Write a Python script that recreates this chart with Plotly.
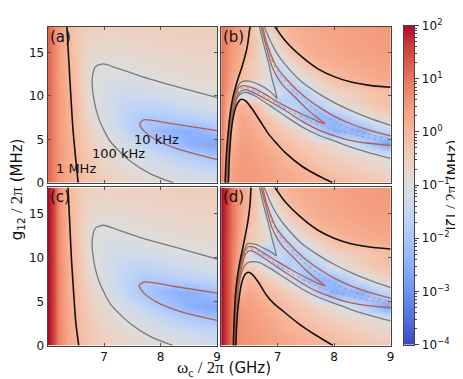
import math
import plotly.graph_objects as go

# ---------------- grids (log10 |zeta|/2pi in MHz) ----------------
x_ac = [6.0, 6.1, 6.2, 6.35, 6.5, 6.75, 7.0, 7.25, 7.5, 7.75, 8.0, 8.25, 8.5, 8.75, 9.0]
x_bd = [6.0, 6.1, 6.2, 6.35, 6.5, 6.65, 6.8, 7.0, 7.25, 7.5, 7.75, 8.0, 8.25, 8.5, 8.75, 9.0]
y_grid = [0, 1.5, 3, 4.5, 6, 7.5, 9, 10.5, 12, 13.5, 15, 16.5, 18]

log_zeta_a = [
    [1.2, 0.85, 0.52, 0.25, 0.05, -0.3, -0.5, -0.62, -0.72, -0.82, -0.92, -1.02, -1.1, -1.18, -1.25],
    [1.2, 0.85, 0.52, 0.24, 0.03, -0.35, -0.6, -0.78, -0.92, -1.04, -1.15, -1.25, -1.35, -1.45, -1.52],
    [1.2, 0.85, 0.5, 0.22, 0.0, -0.42, -0.72, -0.92, -1.07, -1.25, -1.45, -1.65, -1.82, -1.97, -2.1],
    [1.2, 0.85, 0.5, 0.2, -0.02, -0.5, -0.85, -1.1, -1.35, -1.65, -1.92, -2.2, -2.45, -2.62, -2.72],
    [1.2, 0.85, 0.48, 0.18, -0.05, -0.6, -1.0, -1.35, -1.72, -2.05, -2.3, -2.45, -2.5, -2.35, -2.05],
    [1.2, 0.84, 0.47, 0.16, -0.08, -0.75, -1.12, -1.45, -1.75, -1.95, -1.92, -1.82, -1.72, -1.62, -1.52],
    [1.2, 0.84, 0.46, 0.14, -0.12, -0.9, -1.2, -1.42, -1.55, -1.58, -1.5, -1.4, -1.3, -1.2, -1.08],
    [1.2, 0.83, 0.45, 0.12, -0.15, -0.92, -1.15, -1.27, -1.3, -1.25, -1.15, -1.08, -1.03, -0.97, -0.92],
    [1.2, 0.83, 0.44, 0.1, -0.2, -0.95, -1.08, -1.12, -1.08, -1.01, -0.95, -0.9, -0.86, -0.83, -0.8],
    [1.2, 0.82, 0.43, 0.07, -0.25, -0.9, -1.02, -0.98, -0.92, -0.87, -0.82, -0.78, -0.75, -0.72, -0.7],
    [1.2, 0.82, 0.42, 0.04, -0.28, -0.75, -0.85, -0.82, -0.78, -0.74, -0.7, -0.67, -0.64, -0.62, -0.6],
    [1.2, 0.81, 0.41, 0.02, -0.3, -0.62, -0.7, -0.68, -0.65, -0.62, -0.6, -0.57, -0.55, -0.53, -0.52],
    [1.2, 0.8, 0.4, 0.0, -0.3, -0.52, -0.58, -0.57, -0.55, -0.53, -0.51, -0.49, -0.47, -0.46, -0.45],
]

log_zeta_c = [
    [2.0, 1.55, 0.8, 0.28, 0.06, -0.3, -0.5, -0.62, -0.72, -0.82, -0.92, -1.02, -1.1, -1.18, -1.25],
    [2.0, 1.55, 0.8, 0.27, 0.04, -0.35, -0.6, -0.78, -0.92, -1.04, -1.15, -1.25, -1.35, -1.45, -1.52],
    [2.0, 1.55, 0.78, 0.25, 0.01, -0.42, -0.72, -0.92, -1.07, -1.25, -1.45, -1.65, -1.82, -1.97, -2.1],
    [2.0, 1.55, 0.78, 0.23, -0.01, -0.5, -0.85, -1.1, -1.35, -1.65, -1.92, -2.2, -2.45, -2.62, -2.72],
    [2.0, 1.55, 0.76, 0.21, -0.04, -0.6, -1.0, -1.35, -1.72, -2.05, -2.3, -2.45, -2.5, -2.35, -2.05],
    [2.0, 1.55, 0.75, 0.19, -0.07, -0.75, -1.12, -1.45, -1.75, -1.95, -1.92, -1.82, -1.72, -1.62, -1.52],
    [2.0, 1.55, 0.74, 0.17, -0.1, -0.9, -1.2, -1.42, -1.55, -1.58, -1.5, -1.4, -1.3, -1.2, -1.08],
    [2.0, 1.55, 0.73, 0.15, -0.13, -0.92, -1.15, -1.27, -1.3, -1.25, -1.15, -1.08, -1.03, -0.97, -0.92],
    [2.0, 1.55, 0.72, 0.13, -0.18, -0.95, -1.08, -1.12, -1.08, -1.01, -0.95, -0.9, -0.86, -0.83, -0.8],
    [2.0, 1.55, 0.71, 0.1, -0.23, -0.9, -1.02, -0.98, -0.92, -0.87, -0.82, -0.78, -0.75, -0.72, -0.7],
    [2.0, 1.55, 0.7, 0.07, -0.26, -0.75, -0.85, -0.82, -0.78, -0.74, -0.7, -0.67, -0.64, -0.62, -0.6],
    [2.0, 1.55, 0.69, 0.05, -0.28, -0.62, -0.7, -0.68, -0.65, -0.62, -0.6, -0.57, -0.55, -0.53, -0.52],
    [2.0, 1.55, 0.68, 0.03, -0.28, -0.52, -0.58, -0.57, -0.55, -0.53, -0.51, -0.49, -0.47, -0.46, -0.45],
]

log_zeta_b = [
    [1.0, -0.3, 0.42, 0.5, 0.5, 0.45, 0.4, 0.33, 0.25, 0.15, 0.07, -0.02, -0.12, -0.22, -0.32, -0.42],
    [1.0, -0.2, 0.4, 0.5, 0.48, 0.43, 0.36, 0.25, 0.14, 0.02, -0.12, -0.25, -0.38, -0.5, -0.62, -0.72],
    [1.0, -0.1, 0.3, 0.48, 0.45, 0.38, 0.28, 0.14, -0.02, -0.2, -0.38, -0.52, -0.65, -0.78, -0.9, -1.05],
    [1.0, 0.05, 0.1, 0.42, 0.38, 0.28, 0.14, -0.02, -0.22, -0.42, -0.65, -0.88, -1.2, -1.6, -2.3, -2.9],
    [1.0, 0.1, -0.1, 0.35, 0.28, 0.15, -0.02, -0.25, -0.55, -0.92, -1.95, -2.5, -2.4, -2.6, -1.8, -1.5],
    [1.0, 0.15, -0.2, 0.3, 0.18, 0.0, -0.2, -0.6, -1.3, -2.2, -2.4, -2.3, -1.75, -1.15, -0.85, -0.6],
    [1.0, 0.25, -0.1, 0.1, -0.02, -0.3, -0.9, -2.0, -1.6, -2.0, -1.7, -1.05, -0.75, -0.5, -0.3, -0.15],
    [1.0, 0.5, 0.15, -1.6, -1.8, -1.7, -1.2, -1.1, -2.0, -1.6, -0.92, -0.7, -0.5, -0.35, -0.2, -0.08],
    [1.0, 0.6, 0.3, -0.1, -0.4, -0.6, -0.85, -1.85, -1.4, -0.85, -0.5, -0.15, 0.05, 0.15, 0.22, 0.28],
    [1.0, 0.65, 0.4, 0.05, -0.35, -0.6, -0.9, -1.5, -0.8, -0.3, 0.05, 0.15, 0.22, 0.28, 0.33, 0.37],
    [1.0, 0.7, 0.45, 0.2, -0.1, -0.5, -1.5, -0.95, -0.2, 0.1, 0.2, 0.27, 0.33, 0.38, 0.42, 0.45],
    [1.0, 0.72, 0.5, 0.25, -0.05, -0.5, -1.4, -0.5, 0.05, 0.18, 0.26, 0.32, 0.38, 0.42, 0.46, 0.49],
    [1.0, 0.75, 0.55, 0.3, 0.02, -0.85, -0.5, 0.0, 0.15, 0.24, 0.3, 0.36, 0.41, 0.45, 0.48, 0.51],
]

log_zeta_d = [
    [2.0, 1.5, 0.9, 0.6, 0.55, 0.48, 0.42, 0.33, 0.25, 0.15, 0.07, -0.02, -0.12, -0.22, -0.32, -0.42],
    [2.0, 1.5, 0.9, 0.58, 0.53, 0.45, 0.38, 0.25, 0.14, 0.02, -0.12, -0.25, -0.38, -0.5, -0.62, -0.72],
    [2.0, 1.5, 0.9, 0.55, 0.5, 0.4, 0.3, 0.16, -0.02, -0.2, -0.38, -0.52, -0.65, -0.78, -0.9, -1.05],
    [2.0, 1.5, 0.9, 0.45, 0.42, 0.3, 0.16, 0.0, -0.22, -0.42, -0.65, -0.88, -1.2, -1.6, -2.3, -2.9],
    [2.0, 1.5, 0.9, 0.1, 0.3, 0.15, -0.05, -0.25, -0.55, -0.92, -1.95, -2.5, -2.4, -2.6, -1.8, -1.5],
    [2.0, 1.5, 0.9, -0.2, 0.05, -0.1, -0.35, -0.65, -1.3, -2.2, -2.4, -2.3, -1.75, -1.15, -0.85, -0.6],
    [2.0, 1.5, 0.9, -0.2, -0.5, -0.75, -1.1, -2.0, -1.6, -2.0, -1.7, -1.05, -0.75, -0.5, -0.3, -0.15],
    [2.0, 1.5, 0.9, 0.05, -1.2, -1.9, -1.9, -1.3, -2.0, -1.6, -0.92, -0.7, -0.5, -0.35, -0.2, -0.08],
    [2.0, 1.5, 0.95, 0.2, -0.3, -0.55, -0.85, -1.85, -1.4, -0.85, -0.5, -0.15, 0.05, 0.15, 0.22, 0.28],
    [2.0, 1.55, 1.0, 0.25, -0.2, -0.55, -0.9, -1.5, -0.8, -0.3, 0.05, 0.15, 0.22, 0.28, 0.33, 0.37],
    [2.0, 1.55, 1.0, 0.3, -0.05, -0.5, -1.5, -0.95, -0.2, 0.1, 0.2, 0.27, 0.33, 0.38, 0.42, 0.45],
    [2.0, 1.6, 1.0, 0.33, 0.02, -0.5, -1.4, -0.5, 0.05, 0.18, 0.26, 0.32, 0.38, 0.42, 0.46, 0.49],
    [2.0, 1.6, 1.0, 0.35, 0.05, -0.85, -0.5, 0.0, 0.15, 0.24, 0.3, 0.36, 0.41, 0.45, 0.48, 0.51],
]

# ---------------- contour lines: (omega_c GHz, g12 MHz) ----------------
a_black = [(6.34, 18), (6.375, 14), (6.41, 10), (6.45, 6), (6.5, 2.5), (6.54, 0)]
a_gray = [(9.0, 9.8), (8.61, 10.5), (8.22, 11.2), (7.64, 12.3), (7.23, 13.2), (6.99, 13.7), (6.85, 13.4),
          (6.79, 12.1), (6.81, 9.9), (6.91, 7.3), (7.11, 4.75), (7.46, 2.5), (7.81, 1.05), (8.22, 0)]
a_brown = [(9.0, 6.0), (8.22, 6.77), (7.7, 7.25), (7.63, 6.77), (7.7, 6.0), (7.93, 4.9), (8.34, 3.8), (9.0, 2.65)]

c_black = [(6.36, 18), (6.39, 14), (6.42, 10), (6.46, 6), (6.5, 2.5), (6.55, 0)]
c_gray = [(9.0, 9.85), (8.61, 10.55), (8.22, 11.25), (7.64, 12.3), (7.23, 13.2), (6.99, 13.7), (6.85, 13.4),
          (6.79, 12.1), (6.81, 9.9), (6.91, 7.3), (7.11, 4.75), (7.46, 2.5), (7.81, 1.05), (8.22, 0)]
c_brown = [(9.0, 5.96), (8.22, 6.75), (7.72, 7.25), (7.62, 6.85), (7.7, 6.0), (7.93, 4.95), (8.34, 3.9), (9.0, 2.87)]

# shared by (b) and (d)
t_black = [(6.93, 18.2), (7.13, 16.4), (7.43, 14.5), (7.72, 13.1), (8.01, 12.2), (8.3, 11.6), (8.6, 11.25), (9.0, 11.0)]
t_gray_right = [(6.75, 18.2), (6.86, 16.5), (6.98, 15.0), (7.15, 13.5), (7.43, 11.6), (7.72, 10.3), (8.01, 9.2),
                (8.3, 8.3), (8.6, 7.5), (9.0, 6.6)]
t_brown_right = [(6.725, 18.2), (6.815, 16), (6.96, 13.6), (7.16, 11.9), (7.46, 10.0), (7.76, 8.6), (8.05, 7.5),
                 (8.35, 6.65), (8.65, 6.0), (9.0, 5.4)]
t_zero = [(6.712, 18.2), (6.8, 16), (6.94, 13.5), (7.13, 11.7), (7.43, 9.7), (7.72, 8.15), (8.01, 7.0),
          (8.3, 6.2), (8.6, 5.6), (9.0, 5.0)]
t_brown_left = [(6.70, 18.2), (6.785, 16), (6.9, 13.4), (7.0, 12.1), (7.1, 11.2), (7.3, 9.9), (7.5, 8.6),
                (7.72, 7.4), (7.84, 6.8)]

b_black_left = [(6.07, 0), (6.09, 3), (6.12, 5.5), (6.16, 8), (6.21, 9.9), (6.29, 11.8), (6.37, 13.4),
                (6.46, 15.6), (6.5, 17.5), (6.52, 18.2)]
b_black_hump = [(6.13, 0), (6.15, 3.5), (6.2, 7.0), (6.27, 8.9), (6.35, 9.6), (6.43, 9.45), (6.55, 8.5),
                (6.7, 7.0), (6.84, 5.6), (7.0, 4.4), (7.13, 3.5), (7.43, 1.9), (7.72, 0.8), (7.97, 0)]
b_gray_left = [(6.085, 0), (6.105, 3), (6.135, 6), (6.185, 8.5), (6.24, 10.2), (6.3, 11.2), (6.37, 11.65),
               (6.49, 11.7), (6.67, 11.3), (6.84, 10.65), (6.99, 9.7)]
b_gray_top = [(6.99, 9.7), (6.96, 10.6), (6.9, 12.0), (6.84, 13.8), (6.75, 16), (6.67, 18.2)]
b_gray_low = [(6.115, 0), (6.135, 3), (6.17, 6), (6.23, 8.5), (6.29, 9.85), (6.36, 10.3), (6.46, 10.4),
              (6.6, 10.0), (6.84, 9.0), (7.13, 7.7), (7.43, 6.44), (7.72, 5.5), (8.01, 4.8), (8.3, 4.1),
              (8.6, 3.5), (9.0, 2.8)]
b_brown_up = [(6.095, 0), (6.115, 3), (6.15, 6), (6.2, 8.5), (6.26, 10.2), (6.32, 11.0), (6.4, 11.2),
              (6.55, 10.95), (6.75, 10.3), (7.0, 9.3), (7.25, 8.45), (7.5, 7.7), (7.72, 7.05), (7.84, 6.8)]
b_zero = [(6.1, 0), (6.12, 3), (6.155, 6), (6.21, 8.5), (6.275, 10.2), (6.34, 10.85), (6.43, 10.98),
          (6.6, 10.55), (6.8, 9.85), (7.0, 9.05), (7.25, 8.15), (7.5, 7.35), (7.8, 6.5), (8.1, 5.9),
          (8.4, 5.45), (8.7, 5.05), (9.0, 4.75)]
b_brown_low = [(6.105, 0), (6.125, 3), (6.16, 6), (6.22, 8.5), (6.29, 10.1), (6.36, 10.6), (6.44, 10.72),
               (6.6, 10.3), (6.84, 9.45), (7.13, 8.35), (7.43, 7.1), (7.72, 6.1), (8.01, 5.4), (8.3, 4.85),
               (8.6, 4.55), (9.0, 4.3)]

d_black_left = [(6.215, 0), (6.23, 3), (6.25, 5.5), (6.28, 7.5), (6.33, 9.5), (6.38, 11), (6.42, 12.3),
                (6.47, 14), (6.51, 16), (6.53, 18.2)]
d_black_hump = [(6.26, 0), (6.28, 3), (6.32, 5.5), (6.37, 7.3), (6.43, 8.15), (6.48, 8.35), (6.55, 8.1),
                (6.66, 7.2), (6.79, 5.85), (6.93, 4.8), (7.08, 4.0), (7.37, 2.5), (7.67, 1.2), (7.98, 0)]
d_gray_left = [(6.225, 0), (6.24, 3), (6.26, 5.5), (6.295, 7.5), (6.35, 9.5), (6.41, 10.9), (6.47, 11.6),
               (6.6, 11.55), (6.75, 11.1), (6.87, 10.7), (6.98, 10.2)]
d_gray_top = [(6.98, 10.2), (6.95, 11.0), (6.9, 12.2), (6.84, 13.8), (6.75, 16), (6.67, 18.2)]
d_gray_low = [(6.25, 0), (6.265, 3), (6.29, 5.5), (6.33, 7.5), (6.39, 8.8), (6.46, 9.4), (6.56, 9.55),
              (6.68, 9.45), (6.84, 8.9), (7.13, 7.7), (7.43, 6.44), (7.72, 5.5), (8.01, 4.8), (8.3, 4.1),
              (8.6, 3.5), (9.0, 2.8)]
d_brown_up = [(6.23, 0), (6.245, 3), (6.265, 5.5), (6.305, 7.5), (6.36, 9.5), (6.42, 10.8), (6.48, 11.25),
              (6.6, 11.15), (6.75, 10.55), (7.0, 9.55), (7.25, 8.6), (7.5, 7.75), (7.72, 7.05), (7.84, 6.8)]
d_zero = [(6.235, 0), (6.25, 3), (6.27, 5.5), (6.31, 7.5), (6.37, 9.5), (6.43, 10.75), (6.5, 11.05),
          (6.62, 10.85), (6.8, 10.1), (7.0, 9.2), (7.25, 8.2), (7.5, 7.35), (7.8, 6.5), (8.1, 5.9),
          (8.4, 5.45), (8.7, 5.05), (9.0, 4.75)]
d_brown_low = [(6.24, 0), (6.255, 3), (6.28, 5.5), (6.32, 7.5), (6.38, 9.4), (6.44, 10.5), (6.51, 10.8),
               (6.62, 10.55), (6.84, 9.6), (7.13, 8.35), (7.43, 7.1), (7.72, 6.1), (8.01, 5.4), (8.3, 4.85),
               (8.6, 4.55), (9.0, 4.3)]

panel_letters = ["(a)", "(b)", "(c)", "(d)"]
contour_labels = [("1 MHz", 6.5, 1.65), ("100 kHz", 7.26, 3.35), ("10 kHz", 7.93, 5.0)]
x_ticks = [7, 8, 9]
y_ticks = [0, 5, 10, 15]
cbar_exponents = [-4, -3, -2, -1, 0, 1, 2]

# ---------------- style ----------------
W, H = 463, 379
FONT = "DejaVu Sans"
SERIF = "Liberation Serif"
BLACK, GRAY, BROWN, ZERO = "#111111", "#7a7a7a", "#b0604a", "#9a9aa8"

coolwarm = [
    [0.0, "rgb(59,76,192)"], [0.0625, "rgb(77,104,215)"], [0.125, "rgb(98,130,234)"],
    [0.1875, "rgb(119,154,247)"], [0.25, "rgb(141,176,254)"], [0.3125, "rgb(163,194,255)"],
    [0.375, "rgb(184,208,249)"], [0.4375, "rgb(204,217,238)"], [0.5, "rgb(221,221,221)"],
    [0.5625, "rgb(236,211,197)"], [0.625, "rgb(245,196,173)"], [0.6875, "rgb(247,177,148)"],
    [0.75, "rgb(244,154,123)"], [0.8125, "rgb(236,127,99)"], [0.875, "rgb(222,96,77)"],
    [0.9375, "rgb(203,62,56)"], [1.0, "rgb(180,4,38)"],
]

# panel pixel boxes (left, right, top, bottom)
boxes = [(40, 211, 10, 173), (215, 386, 10, 173), (40, 211, 178, 343), (215, 386, 178, 343)]
axis_ids = [("x", "y"), ("x2", "y2"), ("x3", "y3"), ("x4", "y4")]
CB_BOX = (399, 410, 9, 342)

fig = go.Figure()

for (xa, ya), (xs, z) in zip(axis_ids, [(x_ac, log_zeta_a), (x_bd, log_zeta_b), (x_ac, log_zeta_c), (x_bd, log_zeta_d)]):
    fig.add_trace(go.Heatmap(x=xs, y=y_grid, z=z, coloraxis="coloraxis", zsmooth="best",
                             xaxis=xa, yaxis=ya, hoverinfo="skip"))

# colour bar drawn as its own small axis (log10 scale from 1e-4 to 1e2)
cb_levels = [-4 + 6 * i / 300 for i in range(301)]
fig.add_trace(go.Heatmap(x=[0], y=cb_levels, z=[[v] for v in cb_levels], coloraxis="coloraxis",
                         xaxis="x5", yaxis="y5", hoverinfo="skip"))


def add_curve(pts, idx, color, width, dash="solid"):
    xa, ya = axis_ids[idx]
    fig.add_trace(go.Scatter(x=[p[0] for p in pts], y=[p[1] for p in pts], mode="lines",
                             line=dict(color=color, width=width, dash=dash, shape="spline", smoothing=0.7),
                             xaxis=xa, yaxis=ya, showlegend=False, hoverinfo="skip"))


# (a)
add_curve(a_gray, 0, GRAY, 1.3)
add_curve(a_brown, 0, BROWN, 1.3)
add_curve(a_black, 0, BLACK, 1.6)
# (c)
add_curve(c_gray, 2, GRAY, 1.3)
add_curve(c_brown, 2, BROWN, 1.3)
add_curve(c_black, 2, BLACK, 1.6)
# (b) & (d)
for idx, left in [(1, (b_black_left, b_black_hump, b_gray_left, b_gray_top, b_gray_low, b_brown_up, b_zero, b_brown_low)),
                  (3, (d_black_left, d_black_hump, d_gray_left, d_gray_top, d_gray_low, d_brown_up, d_zero, d_brown_low))]:
    bl, bh, gl, gt, glo, bru, zr, brl = left
    add_curve(zr, idx, ZERO, 1.0, "dot")
    add_curve(t_zero, idx, ZERO, 1.0, "dot")
    add_curve(gl, idx, GRAY, 1.3)
    add_curve(gt, idx, GRAY, 1.3)
    add_curve(glo, idx, GRAY, 1.3)
    add_curve(t_gray_right, idx, GRAY, 1.3)
    add_curve(bru, idx, BROWN, 1.3)
    add_curve(brl, idx, BROWN, 1.3)
    add_curve(t_brown_left, idx, BROWN, 1.3)
    add_curve(t_brown_right, idx, BROWN, 1.3)
    add_curve(bl, idx, BLACK, 1.6)
    add_curve(bh, idx, BLACK, 1.6)
    add_curve(t_black, idx, BLACK, 1.6)

layout = dict(
    width=W, height=H, margin=dict(l=0, r=0, t=0, b=0), autosize=False,
    paper_bgcolor="white", plot_bgcolor="white", showlegend=False,
    font=dict(family=FONT, size=12, color="#111"),
    coloraxis=dict(colorscale=coolwarm, cmin=-4, cmax=2, showscale=False),
)

for i, ((xa, ya), (l, r, t, b)) in enumerate(zip(axis_ids, boxes)):
    xk = "xaxis" if xa == "x" else "xaxis" + xa[1:]
    yk = "yaxis" if ya == "y" else "yaxis" + ya[1:]
    layout[xk] = dict(domain=[l / W, r / W], range=[6, 9], anchor=ya, tickvals=x_ticks,
                      showticklabels=(i >= 2), ticks="inside", ticklen=3, tickcolor="#555",
                      showline=True, mirror="ticks", linecolor="#444", linewidth=1,
                      showgrid=False, zeroline=False, tickfont=dict(size=12))
    layout[yk] = dict(domain=[1 - b / H, 1 - t / H], range=[0, 18], anchor=xa, tickvals=y_ticks,
                      showticklabels=(i % 2 == 0), ticks="inside", ticklen=3, tickcolor="#555",
                      showline=True, mirror="ticks", linecolor="#444", linewidth=1,
                      showgrid=False, zeroline=False, tickfont=dict(size=12))

cl, cr, ct, cbm = CB_BOX
layout["xaxis5"] = dict(domain=[cl / W, cr / W], range=[-0.5, 0.5], anchor="y5", showticklabels=False,
                        ticks="", showline=True, mirror=True, linecolor="#444", linewidth=1,
                        showgrid=False, zeroline=False)
layout["yaxis5"] = dict(domain=[1 - cbm / H, 1 - ct / H], range=[-4, 2], anchor="x5", side="right",
                        tickvals=cbar_exponents,
                        ticktext=["10<sup>%s</sup>" % (str(e).replace("-", "\u2212")) for e in cbar_exponents],
                        ticks="outside", ticklen=4, tickcolor="#444", tickwidth=1,
                        minor=dict(tickvals=[e + math.log10(k) for e in cbar_exponents[:-1] for k in range(2, 10)],
                                   ticks="outside", ticklen=2, tickcolor="#444", showgrid=False),
                        showline=True, mirror=True, linecolor="#444", linewidth=1,
                        showgrid=False, zeroline=False, tickfont=dict(size=12))

fig.update_layout(**layout)

# panel letters
for (xa, ya), letter in zip(axis_ids, panel_letters):
    fig.add_annotation(x=6.0, y=18.0, xref=xa, yref=ya, text=letter, showarrow=False,
                       xanchor="left", yanchor="top", yshift=1,
                       font=dict(family=FONT, size=15, color="#111"))

# contour level labels in (a)
for txt, lx, ly in contour_labels:
    fig.add_annotation(x=lx, y=ly, xref="x", yref="y", text=txt, showarrow=False,
                       font=dict(family=FONT, size=13, color="#111"))

# axis titles
fig.add_annotation(x=218 / W, y=0.0, xref="paper", yref="paper", showarrow=False,
                   xanchor="center", yanchor="bottom", yshift=-2,
                   text="<span style='font-family:%s;font-size:17px'>\u03c9<sub>c</sub> / 2\u03c0</span> (GHz)" % SERIF,
                   font=dict(family=FONT, size=15, color="#111"))
fig.add_annotation(x=9 / W, y=1 - 180 / H, xref="paper", yref="paper", showarrow=False, textangle=-90,
                   xanchor="center", yanchor="middle",
                   text="g<sub>12</sub><span style='font-family:%s;font-size:17px'> / 2\u03c0</span> (MHz)" % SERIF,
                   font=dict(family=FONT, size=15, color="#111"))
fig.add_annotation(x=455 / W, y=1 - 176 / H, xref="paper", yref="paper", showarrow=False, textangle=-90,
                   xanchor="center", yanchor="middle", xshift=-7,
                   text="|\u03b6|<span style='font-family:%s;font-size:16px'> / 2\u03c0</span> (MHz)" % SERIF,
                   font=dict(family=FONT, size=14, color="#111"))

fig.write_html("out.html")
